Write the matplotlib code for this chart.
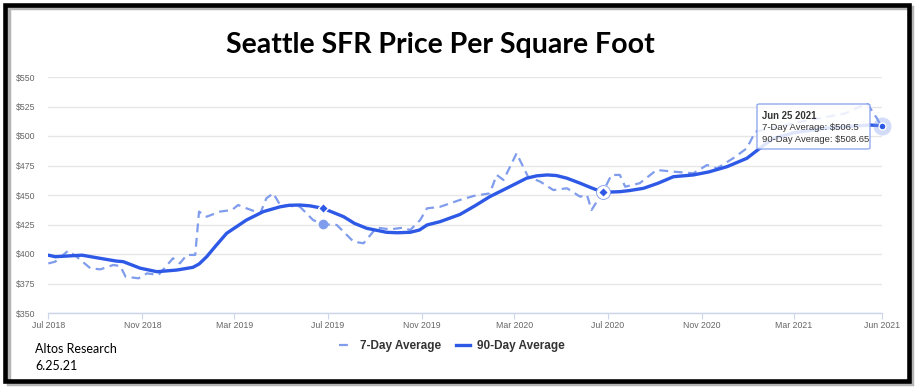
import matplotlib
matplotlib.use('Agg')
import matplotlib.pyplot as plt
import matplotlib.patches as patches
import matplotlib.lines as mlines
import pandas as pd

# 90-day average (solid)
dates_90 = ['2018-07-01', '2018-07-10', '2018-08-14', '2018-09-07', '2018-09-28', '2018-10-07',
            '2018-10-29', '2018-11-20', '2018-12-16', '2019-01-06', '2019-01-14', '2019-01-24',
            '2019-02-05', '2019-02-19', '2019-03-17', '2019-04-08', '2019-04-30', '2019-05-12',
            '2019-05-26', '2019-06-08', '2019-06-25', '2019-07-22', '2019-08-05', '2019-08-21',
            '2019-09-16', '2019-09-30', '2019-10-17', '2019-10-29', '2019-11-08', '2019-11-25',
            '2019-12-21', '2020-01-10', '2020-01-29', '2020-02-24', '2020-03-17', '2020-03-30',
            '2020-04-13', '2020-04-25', '2020-05-09', '2020-05-26', '2020-06-10', '2020-06-25',
            '2020-07-17', '2020-07-30', '2020-08-17', '2020-09-05', '2020-09-25', '2020-10-21',
            '2020-11-10', '2020-12-04', '2020-12-30', '2021-01-16', '2021-01-25', '2021-02-03',
            '2021-03-03', '2021-04-11', '2021-05-20', '2021-06-09', '2021-06-25']
avg_90 = [399, 397.7, 399, 396.3, 394, 393.5,
          388, 385, 386.4, 388.7, 391.5, 397.7,
          407, 417.5, 428.8, 435.9, 440, 441.3,
          441.5, 440.8, 438.7, 431.6, 426, 421.8,
          418.4, 418, 418.4, 420.3, 424.6, 427.4,
          433.5, 441, 448.6, 457, 464.2, 466.2,
          467, 466.5, 464.2, 460, 456, 452.3,
          452.8, 453.8, 455.7, 460, 465.5, 467,
          469.5, 474, 481.1, 489.6, 494, 498,
          503, 506.5, 508.5, 509.3, 508.65]

# 7-day average (dashed)
dates_7 = ['2018-07-01', '2018-07-10', '2018-07-27', '2018-08-07', '2018-08-25', '2018-09-07',
           '2018-09-24', '2018-10-03', '2018-10-10', '2018-10-27', '2018-11-07', '2018-11-22',
           '2018-12-11', '2018-12-20', '2018-12-29', '2019-01-09', '2019-01-14', '2019-01-24',
           '2019-02-10', '2019-02-26', '2019-03-06', '2019-03-17', '2019-04-04', '2019-04-12',
           '2019-04-21', '2019-04-30', '2019-05-26', '2019-06-12', '2019-06-25', '2019-07-13',
           '2019-08-04', '2019-08-17', '2019-09-03', '2019-09-21', '2019-10-08', '2019-10-17',
           '2019-10-30', '2019-11-08', '2019-11-25', '2019-12-21', '2020-01-08', '2020-01-29',
           '2020-02-07', '2020-02-16', '2020-03-04', '2020-03-19', '2020-04-04', '2020-04-21',
           '2020-05-09', '2020-05-26', '2020-06-04', '2020-06-10', '2020-06-25', '2020-07-06',
           '2020-07-17', '2020-07-24', '2020-08-12', '2020-09-03', '2020-09-25', '2020-10-21',
           '2020-11-08', '2020-11-21', '2020-12-12', '2020-12-30', '2021-01-10', '2021-02-11',
           '2021-03-09', '2021-04-04', '2021-05-07', '2021-06-05', '2021-06-18', '2021-06-25']
avg_7 = [392, 393.5, 402.8, 397.7, 387.9, 387,
         390.7, 389.8, 380.8, 379.4, 383.6, 382.2,
         396.4, 392.1, 399.2, 399.2, 435.9, 431.6,
         435.9, 437.3, 441.5, 438.7, 434.5, 447.2,
         451.4, 441.5, 440, 428.8, 425.2, 424.6,
         410.4, 409.1, 422.3, 420.9, 422.3, 420.3,
         428.8, 438.7, 440, 445.8, 449.2, 451.4,
         467, 462.7, 485.3, 465.5, 461.3, 454.2,
         455.7, 448.6, 450, 437.3, 452.8, 467,
         467, 457, 460, 471.2, 469.8, 468.4,
         475.4, 472.6, 481.1, 489.6, 503.7, 508,
         512, 515, 519, 527.7, 515, 506.5]

tick_dates = ['2018-07-01', '2018-11-01', '2019-03-01', '2019-07-01', '2019-11-01',
              '2020-03-01', '2020-07-01', '2020-11-01', '2021-03-01', '2021-06-25']
tick_labels = ['Jul 2018', 'Nov 2018', 'Mar 2019', 'Jul 2019', 'Nov 2019',
               'Mar 2020', 'Jul 2020', 'Nov 2020', 'Mar 2021', 'Jun 2021']
y_ticks = [350, 375, 400, 425, 450, 475, 500, 525, 550]
hover_dates = ['2019-06-25', '2020-06-25', '2021-06-25']

W, H = 920, 392
c90 = '#2d59e6'
c7 = '#809cec'

d90 = pd.to_datetime(dates_90)
d7 = pd.to_datetime(dates_7)

fig = plt.figure(figsize=(W / 100, H / 100), dpi=100)
ax = fig.add_axes([48.3 / W, 1 - 313 / H, 834 / W, 236 / H])

ax.plot(d7, avg_7, color=c7, lw=1.6, dashes=(4, 2.5), zorder=3)
ax.plot(d90, avg_90, color=c90, lw=2.4, zorder=4, solid_capstyle='round', solid_joinstyle='round')

# hover markers
for hd in hover_dates:
    t = pd.Timestamp(hd)
    i90 = list(d90).index(t)
    i7 = list(d7).index(t)
    if hd == '2021-06-25':
        ax.plot(t, avg_90[i90], 'o', ms=13, color=c7, alpha=0.35, mew=0, zorder=5, clip_on=False)
        ax.plot(t, avg_90[i90], 'o', ms=5, color=c90, mec='white', mew=1, zorder=6, clip_on=False)
    else:
        if hd == '2019-06-25':
            ax.plot(t, avg_7[i7], 'o', ms=7, color=c7, mew=0, zorder=5)
        else:
            ax.plot(t, avg_90[i90], 'o', ms=10, color='white', mec=c7, mew=0.6, zorder=5)
        ax.plot(t, avg_90[i90], 'D', ms=5.5, color=c90, mec='white', mew=1, zorder=6)

ax.set_ylim(350, 550)
ax.set_xlim(pd.Timestamp(tick_dates[0]), pd.Timestamp(tick_dates[-1]))
ax.set_yticks(y_ticks)
ax.set_yticklabels(['$' + str(v) for v in y_ticks])
ax.set_xticks(pd.to_datetime(tick_dates))
ax.set_xticklabels(tick_labels)
ax.grid(axis='y', color='#e6e6e6', lw=1)
ax.set_axisbelow(True)
for s in ['top', 'right', 'left']:
    ax.spines[s].set_visible(False)
ax.spines['bottom'].set_color('#ccd6eb')
ax.spines['bottom'].set_linewidth(1)
ax.tick_params(axis='y', length=0, pad=9, labelsize=6.3, labelcolor='#666666')
ax.tick_params(axis='x', length=4, width=0.8, color='#ccd6eb', pad=2, labelsize=6.3, labelcolor='#666666')
for lab in ax.get_xticklabels() + ax.get_yticklabels():
    lab.set_family('Liberation Sans')

# tooltip
tx0, ty0, tw, th = 757, 104, 113, 45
box = patches.FancyBboxPatch((tx0 / W, 1 - (ty0 + th) / H), tw / W, th / H,
                             boxstyle='round,pad=0,rounding_size=0.003',
                             transform=fig.transFigure, facecolor='white', alpha=0.85,
                             edgecolor=c7, lw=1, zorder=10)
fig.add_artist(box)
fig.text(762 / W, 1 - 116 / H, 'Jun 25 2021', fontsize=6.9, weight='bold', color='#333333',
         family='Liberation Sans', va='center', zorder=11)
fig.text(762 / W, 1 - 128 / H, '7-Day Average: $' + str(avg_7[-1]), fontsize=6.8, color='#333333',
         family='Liberation Sans', va='center', zorder=11)
fig.text(762 / W, 1 - 139.5 / H, '90-Day Average: $' + str(avg_90[-1]), fontsize=6.8, color='#333333',
         family='Liberation Sans', va='center', zorder=11)

# legend
h7 = mlines.Line2D([], [], color=c7, lw=1.6, dashes=(4, 2.5))
h90 = mlines.Line2D([], [], color=c90, lw=2.4)
fig.legend([h7, h90], ['7-Day Average', '90-Day Average'], loc='center',
           bbox_to_anchor=(452 / W, 1 - 346 / H), ncol=2, frameon=False,
           handlelength=1.2, handletextpad=0.6, columnspacing=1.2,
           prop={'family': 'Liberation Sans', 'weight': 'bold', 'size': 8.5},
           labelcolor='#333333')

# title and source
fig.text(440 / W, 1 - 45 / H, 'Seattle SFR Price Per Square Foot', ha='center', va='center',
         fontsize=20.5, weight='bold', family=['Liberation Sans Narrow', 'Lato'], color='black')
fig.text(35 / W, 1 - 349 / H, 'Altos Research', fontsize=9, family='Lato', va='center')
fig.text(35 / W, 1 - 366 / H, '6.25.21', fontsize=9, family='Lato', va='center')

# frame with shadow
shadow = patches.Rectangle((8.5 / W, 1 - 384 / H), 904 / W, 376 / H, transform=fig.transFigure,
                           fill=False, edgecolor='#b5b5b5', lw=3.2, zorder=20)
fig.add_artist(shadow)
frame = patches.Rectangle((5.25 / W, 1 - 380.5 / H), 904.25 / W, 375.25 / H, transform=fig.transFigure,
                          fill=False, edgecolor='black', lw=3.3, zorder=21)
fig.add_artist(frame)

fig.savefig('out.png', dpi=100)
